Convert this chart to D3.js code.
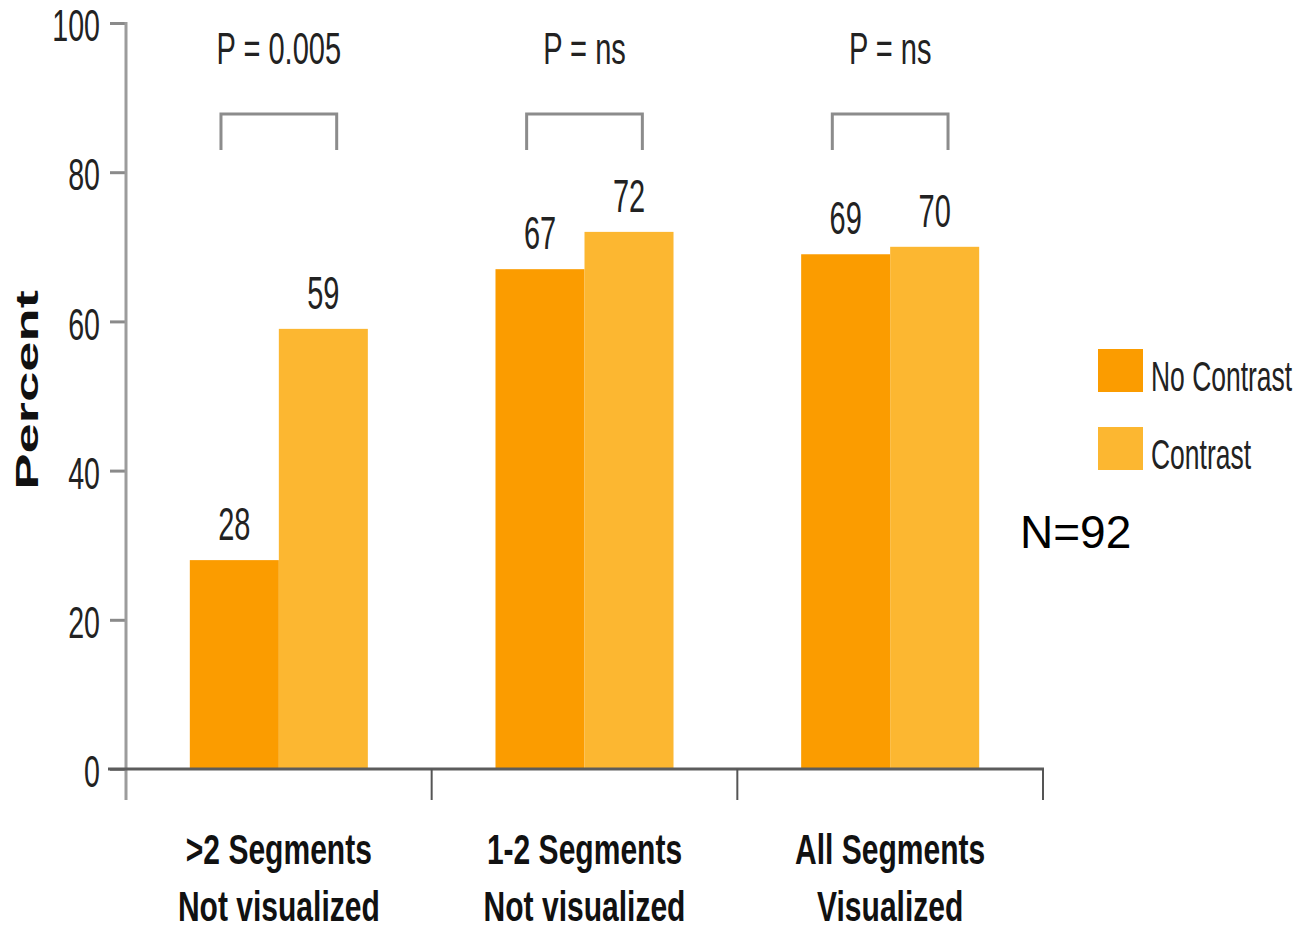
<!DOCTYPE html>
<html><head><meta charset="utf-8">
<script src="https://cdn.jsdelivr.net/npm/d3@7"></script>
<style>html,body{margin:0;padding:0;background:#fff;} svg{display:block;}</style>
</head><body>
<svg id="chart" width="1297" height="931"></svg>
<script>
const categories = [">2 Segments Not visualized", "1-2 Segments Not visualized", "All Segments Visualized"];
const categoryLines = [[">2 Segments", "Not visualized"], ["1-2 Segments", "Not visualized"], ["All Segments", "Visualized"]];
const series = ["No Contrast", "Contrast"];
const noContrast = [28, 67, 69];
const contrast = [59, 72, 70];
const pLabels = ["P = 0.005", "P = ns", "P = ns"];
const yTicks = [0, 20, 40, 60, 80, 100];
const yTitle = "Percent";
const note = "N=92";

const colors = {"No Contrast": "#FB9C00", "Contrast": "#FCB731"};
const FONT = "'Liberation Sans', Arial, sans-serif";
const SX = 0.63;

const svg = d3.select("#chart");
svg.append("rect").attr("width", 1297).attr("height", 931).attr("fill", "#fff");

const y = d3.scaleLinear().domain([0, 100]).range([769, 23]);
const x = d3.scaleBand().domain(categories).range([126, 1043]).paddingInner(0).paddingOuter(0);
const x1 = d3.scaleBand().domain(series).range([0, x.bandwidth()]).paddingInner(0).paddingOuter(0.717);

function cond(sel, px, py, sx) {
  sel.attr("x", 0).attr("y", 0).attr("transform", `translate(${px},${py}) scale(${sx},1)`);
}

const data = categories.map((c, i) => ({cat: c, values: [
  {s: "No Contrast", v: noContrast[i]}, {s: "Contrast", v: contrast[i]}]}));

// bars
const groups = svg.append("g").selectAll("g").data(data).join("g")
  .attr("transform", d => `translate(${x(d.cat)},0)`);
groups.selectAll("rect").data(d => d.values).join("rect")
  .attr("x", d => x1(d.s)).attr("width", x1.bandwidth())
  .attr("y", d => y(d.v)).attr("height", d => y(0) - y(d.v))
  .attr("fill", d => colors[d.s]);
groups.selectAll("text.val").data(d => d.values).join("text")
  .attr("class", "val")
  .attr("font-family", FONT).attr("font-size", 46).attr("fill", "#222")
  .attr("text-anchor", "middle")
  .text(d => d.v)
  .each(function(d) { cond(d3.select(this), x1(d.s) + x1.bandwidth() / 2, y(d.v) - 20, SX); });

// y axis
const TSX = 0.65;
const yAxis = svg.append("g").attr("transform", "translate(126,0)")
  .call(d3.axisLeft(y).tickValues(yTicks).tickSize(16).tickPadding(0));
yAxis.select(".domain").remove();
yAxis.selectAll(".tick line").attr("stroke", "#8a8a8a").attr("stroke-width", 3);
yAxis.selectAll(".tick text")
  .attr("font-family", FONT).attr("font-size", 44).attr("fill", "#222")
  .attr("text-anchor", "end")
  .attr("x", -26 / TSX).attr("dy", "0.4em")
  .attr("transform", `scale(${TSX},1)`);
svg.append("line").attr("x1", 126).attr("x2", 126)
  .attr("y1", y(100) - 1).attr("y2", y(0) + 31)
  .attr("stroke", "#9c9c9c").attr("stroke-width", 3);

// x axis
svg.append("line").attr("x1", 108).attr("x2", x.range()[1] + 1)
  .attr("y1", y(0)).attr("y2", y(0)).attr("stroke", "#5c5c5c").attr("stroke-width", 3);
const seps = categories.slice(1).map(c => x(c)).concat([x.range()[1]]);
svg.append("g").selectAll("line").data(seps).join("line")
  .attr("x1", d => d).attr("x2", d => d)
  .attr("y1", y(0)).attr("y2", y(0) + 31)
  .attr("stroke", "#555").attr("stroke-width", 2);

// category labels
categories.forEach((c, i) => {
  const cx = x(c) + x.bandwidth() / 2;
  categoryLines[i].forEach((ln, j) => {
    svg.append("text").attr("font-family", FONT).attr("font-weight", "bold")
      .attr("font-size", 42).attr("fill", "#111").attr("text-anchor", "middle")
      .text(ln).call(s => cond(s, cx, 864 + j * 57, 0.715));
  });
});

// p-value labels and brackets
categories.forEach((c, i) => {
  const cx = x(c) + x.bandwidth() / 2;
  svg.append("text").attr("font-family", FONT).attr("font-size", 44).attr("fill", "#222")
    .attr("text-anchor", "middle").text(pLabels[i]).call(s => cond(s, cx, 64, 0.66));
  const half = x1.bandwidth() * 0.65;
  svg.append("path")
    .attr("d", `M${cx - half},150 V114 H${cx + half} V150`)
    .attr("fill", "none").attr("stroke", "#8c8c8c").attr("stroke-width", 3);
});

// y title
svg.append("text").attr("font-family", FONT).attr("font-weight", "bold")
  .attr("font-size", 32).attr("fill", "#111").attr("text-anchor", "middle")
  .attr("x", 0).attr("y", 0)
  .attr("transform", "translate(38,390) rotate(-90) scale(1.7,1)")
  .text(yTitle);

// legend
const legend = svg.append("g").selectAll("g").data(series).join("g")
  .attr("transform", (d, i) => `translate(1098,${349 + i * 78})`);
legend.append("rect").attr("width", 45).attr("height", 43).attr("fill", d => colors[d]);
legend.append("text").attr("font-family", FONT).attr("font-size", 42).attr("fill", "#222")
  .text(d => d).each(function() { cond(d3.select(this), 53, 42, SX); });

// note
svg.append("text").attr("x", 1020).attr("y", 548).attr("font-family", FONT)
  .attr("font-size", 46).attr("fill", "#000").text(note);
</script>
</body></html>
